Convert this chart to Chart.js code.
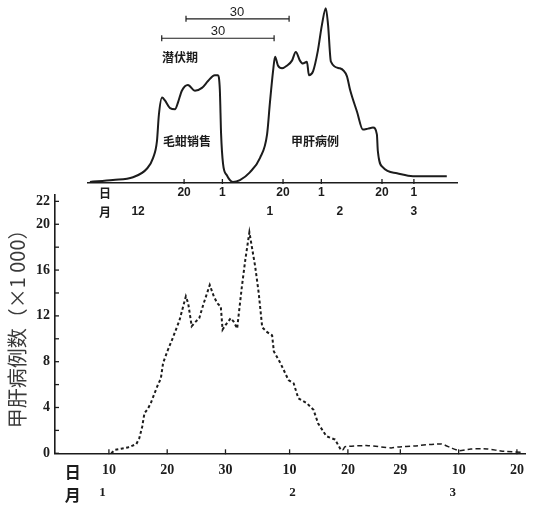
<!DOCTYPE html>
<html><head><meta charset="utf-8">
<script src="https://cdn.jsdelivr.net/npm/chart.js@4.4.1/dist/chart.umd.min.js"></script>
<style>
html,body{margin:0;padding:0;background:#fff;}
#wrap{position:relative;width:533px;height:506px;overflow:hidden;background:#fff;}
canvas{position:absolute;left:0;top:0;}
</style></head><body>
<div id="wrap"><canvas id="bottom" width="533" height="506"></canvas><canvas id="top" width="533" height="225"></canvas></div>
<script>
// ---------- Top schematic panel (x: day counted from Dec 1, y: relative level 0-100) ----------
const TOP_DAYS = [-10.5,-3.3,3.0,7.4,9.3,10.5,11.1,12.1,13.0,14.6,16.2,17.1,18.3,20.2,22.4,24.6,26.5,28.6,29.6,30.2,30.6,31.2,32.4,34.3,36.5,39.6,42.8,45.0,45.9,46.9,47.5,48.4,49.7,51.3,52.8,54.0,55.3,56.2,57.5,58.1,59.4,60.9,62.2,63.4,64.1,65.0,67.8,70.0,71.0,73.2,75.0,76.6,78.2,79.4,79.7,81.3,85.7,90.7,96.0,101.3];
const TOP_LEVELS = [0.6,1.7,3.3,8.3,14.4,23.9,38.9,48.9,47.2,42.8,42.2,46.1,52.8,56.1,52.8,54.4,58.3,61.7,61.7,53.3,27.8,11.1,4.4,0.6,1.7,6.1,14.4,27.8,46.1,64.4,72.2,67.2,65.6,67.2,70.0,75.0,70.0,68.3,69.4,61.7,63.9,75.6,90.6,100,90.6,69.4,65.6,61.1,53.3,40.6,30.6,31.1,31.7,27.8,18.3,8.9,5.6,3.9,3.9,3.9];
const TOP_DAY_TICKS = [-5.8,19,31,50,62,81,91];
const TOP_DAY_LABELS = ['日','20','1','20','1','20','1'];
const TOP_MONTH_TICKS = [-5.8,4.6,45.9,67.8,91];
const TOP_MONTH_LABELS = ['月','12','1','2','3'];
const SPAN_UPPER_DAYS = [19.6,51.9];
const SPAN_UPPER_LEVEL = 93.9;
const SPAN_LOWER_DAYS = [12.0,47.2];
const SPAN_LOWER_LEVEL = 82.8;
const TOP_NOTE_TEXTS = ['30','30','潜伏期','毛蚶销售','甲肝病例'];
const TOP_NOTE_DAYS = [35.6,29.6,17.7,19.9,60.0];
const TOP_NOTE_LEVELS = [97.8,86.7,71.7,23.9,23.9];

// ---------- Bottom chart (x: day counted from Jan 0, y: cases ×1000) ----------
const DAYS_MAIN = [10.4,11.0,12.1,13.2,14.7,15.2,15.7,16.1,16.7,17.2,17.8,18.5,18.9,19.3,20.1,20.9,22.1,23.2,23.6,24.2,24.9,25.5,26.2,27.3,28.0,28.6,29.2,29.5,30.0,30.9,31.4,32.0,32.8,33.4,34.1,35.1,35.7,36.3,37.1,38.0,38.3,39.4,40.8,41.7,42.5,43.9,45.1,45.9,47.3,48.8,49.8,50.2];
const CASES_MAIN = [0,0.3,0.4,0.5,0.8,1.3,2.3,3.5,3.9,4.4,5.2,6.1,6.5,7.9,9.0,10.0,11.6,13.7,13.1,11.1,11.5,11.8,13.0,14.7,13.7,13.1,12.8,10.8,11.2,11.8,11.5,10.9,14.5,16.9,19.3,16.3,14.0,11.0,10.6,10.3,8.9,7.9,6.4,6.1,4.8,4.4,3.8,2.6,1.5,1.2,0.3,0.3];
const DAYS_TAIL = [50.2,50.5,54.5,58.4,59.6,62.4,67.0,68.7,70.1,72.1,74.9,77.8,80.9];
const CASES_TAIL = [0.3,0.58,0.67,0.47,0.55,0.64,0.82,0.47,0.23,0.38,0.38,0.17,0.09];
const Y_TICKS = [0,2,4,6,8,10,12,14,16,18,20,22];
const Y_LABELED = [0,4,8,12,16,20,22];
const X_TICKS = [3.8,10,20,30,41,51,60,70,80];
const X_LABELS = ['日','10','20','30','10','20','29','10','20'];
const MONTH_TICKS = [3.8,8.9,41.5,69];
const MONTH_LABELS = ['月','1','2','3'];
const Y_TITLE = '甲肝病例数（×1 000）';

const INK = '#1c1c1c';
const CJK = '"Noto Sans CJK SC"';

const innerTicks = {
  id: 'innerTicks',
  afterDraw(chart, args, opts) {
    const ctx = chart.ctx;
    ctx.save();
    ctx.strokeStyle = INK;
    ctx.lineWidth = 1.3;
    (opts.list || []).forEach(spec => {
      const s = chart.scales[spec.id];
      s.ticks.forEach((t, i) => {
        if (spec.skip && spec.skip.includes(i)) return;
        const p = s.getPixelForValue(t.value);
        ctx.beginPath();
        if (s.isHorizontal()) { ctx.moveTo(p, s.top + 1); ctx.lineTo(p, s.top - spec.len); }
        else { ctx.moveTo(s.right - 1, p); ctx.lineTo(s.right + spec.len, p); }
        ctx.stroke();
      });
    });
    ctx.restore();
  }
};

const notes = {
  id: 'notes',
  afterDatasetsDraw(chart, args, opts) {
    if (!opts.texts) return;
    const {ctx, scales: {x, y}} = chart;
    ctx.save();
    ctx.fillStyle = INK;
    ctx.textAlign = 'center';
    ctx.textBaseline = 'middle';
    opts.texts.forEach((t, i) => {
      ctx.font = /^\d+$/.test(t) ? '13px "Liberation Sans"' : '700 12px ' + CJK;
      ctx.fillText(t, x.getPixelForValue(opts.days[i]), y.getPixelForValue(opts.levels[i]));
    });
    ctx.restore();
  }
};

const pts = (xs, ys) => xs.map((v, i) => ({x: v, y: ys[i]}));
const setTicks = arr => s => { s.ticks = arr.map(v => ({value: v})); };

// ---------- Top chart ----------
new Chart(document.getElementById('top'), {
  type: 'line',
  data: {
    datasets: [
      {data: pts(TOP_DAYS, TOP_LEVELS), borderColor: INK, borderWidth: 2, pointRadius: 0,
       tension: 0.3, cubicInterpolationMode: 'monotone'},
      {data: pts(SPAN_UPPER_DAYS, [SPAN_UPPER_LEVEL, SPAN_UPPER_LEVEL]), borderColor: INK, borderWidth: 1.2,
       pointStyle: 'line', rotation: 90, pointRadius: 3, pointBorderWidth: 1.2, pointBorderColor: INK},
      {data: pts(SPAN_LOWER_DAYS, [SPAN_LOWER_LEVEL, SPAN_LOWER_LEVEL]), borderColor: INK, borderWidth: 1.2,
       pointStyle: 'line', rotation: 90, pointRadius: 3, pointBorderWidth: 1.2, pointBorderColor: INK}
    ]
  },
  options: {
    responsive: false, animation: false, devicePixelRatio: 1,
    layout: {padding: {left: 88, right: 76, top: 0, bottom: 0}},
    plugins: {
      legend: {display: false}, tooltip: {enabled: false},
      innerTicks: {list: [{id: 'x', len: 4, skip: [0]}]},
      notes: {texts: TOP_NOTE_TEXTS, days: TOP_NOTE_DAYS, levels: TOP_NOTE_LEVELS}
    },
    scales: {
      x: {type: 'linear', position: 'bottom', min: -11.1, max: 104.5, weight: 0,
          afterBuildTicks: setTicks(TOP_DAY_TICKS), afterFit: s => { s.height = 19; },
          grid: {display: false, drawTicks: false}, border: {display: true, color: INK, width: 1.5},
          ticks: {autoSkip: false, maxRotation: 0, minRotation: 0, padding: 2.8, color: INK,
                  font: c => c.index === 0 ? {family: CJK, size: 12, weight: '700'} : {family: '"Liberation Sans"', size: 12, weight: '700'},
                  callback: (v, i) => TOP_DAY_LABELS[i]}},
      xm: {type: 'linear', position: 'bottom', min: -11.1, max: 104.5, weight: 1,
          afterBuildTicks: setTicks(TOP_MONTH_TICKS), afterFit: s => { s.height = 23; },
          grid: {display: false, drawTicks: false}, border: {display: false},
          ticks: {autoSkip: false, maxRotation: 0, minRotation: 0, padding: 2.8, color: INK,
                  font: c => c.index === 0 ? {family: CJK, size: 12, weight: '700'} : {family: '"Liberation Sans"', size: 12, weight: '700'},
                  callback: (v, i) => TOP_MONTH_LABELS[i]}},
      y: {type: 'linear', display: false, min: 0, max: 101.7}
    }
  },
  plugins: [innerTicks, notes]
});

// ---------- Bottom chart ----------
new Chart(document.getElementById('bottom'), {
  type: 'line',
  data: {
    datasets: [
      {data: pts(DAYS_MAIN, CASES_MAIN), borderColor: INK, borderWidth: 2, borderDash: [3, 2.5], pointRadius: 0, tension: 0},
      {data: pts(DAYS_TAIL, CASES_TAIL), borderColor: INK, borderWidth: 1.5, borderDash: [5, 3], pointRadius: 0, tension: 0.2}
    ]
  },
  options: {
    responsive: false, animation: false, devicePixelRatio: 1,
    layout: {padding: {left: 0, right: 5, top: 194.5, bottom: 0}},
    plugins: {
      legend: {display: false}, tooltip: {enabled: false},
      innerTicks: {list: [{id: 'x', len: 4, skip: [0]}, {id: 'y', len: 4, skip: []}]}
    },
    scales: {
      x: {type: 'linear', position: 'bottom', min: 0.75, max: 81.4, weight: 0,
          afterBuildTicks: setTicks(X_TICKS), afterFit: s => { s.height = 28; },
          grid: {display: false, drawTicks: false}, border: {display: true, color: INK, width: 1.6},
          ticks: {autoSkip: false, maxRotation: 0, minRotation: 0, padding: 9, color: INK,
                  font: c => c.index === 0 ? {family: CJK, size: 16, weight: '700'} : {family: '"Liberation Serif"', size: 14, weight: '700'},
                  callback: (v, i) => X_LABELS[i]}},
      xm: {type: 'linear', position: 'bottom', min: 0.75, max: 81.4, weight: 1,
          afterBuildTicks: setTicks(MONTH_TICKS), afterFit: s => { s.height = 24.7; },
          grid: {display: false, drawTicks: false}, border: {display: false},
          ticks: {autoSkip: false, maxRotation: 0, minRotation: 0, padding: 4, color: INK,
                  font: c => c.index === 0 ? {family: CJK, size: 16, weight: '700'} : {family: '"Liberation Serif"', size: 13, weight: '700'},
                  callback: (v, i) => MONTH_LABELS[i]}},
      y: {type: 'linear', position: 'left', min: 0, max: 22.6,
          afterBuildTicks: setTicks(Y_TICKS), afterFit: s => { s.width = 55; },
          grid: {display: false, drawTicks: false}, border: {display: true, color: INK, width: 1.6},
          ticks: {padding: 5, color: INK, font: {family: '"Liberation Serif"', size: 14, weight: '700'},
                  callback: v => Y_LABELED.includes(v) ? String(v) : ''},
          title: {display: true, text: Y_TITLE, color: '#3a3a3a', padding: {top: 5, bottom: 0},
                  font: {family: CJK, size: 20, weight: '400'}}}
    }
  },
  plugins: [innerTicks]
});
</script>
</body></html>
